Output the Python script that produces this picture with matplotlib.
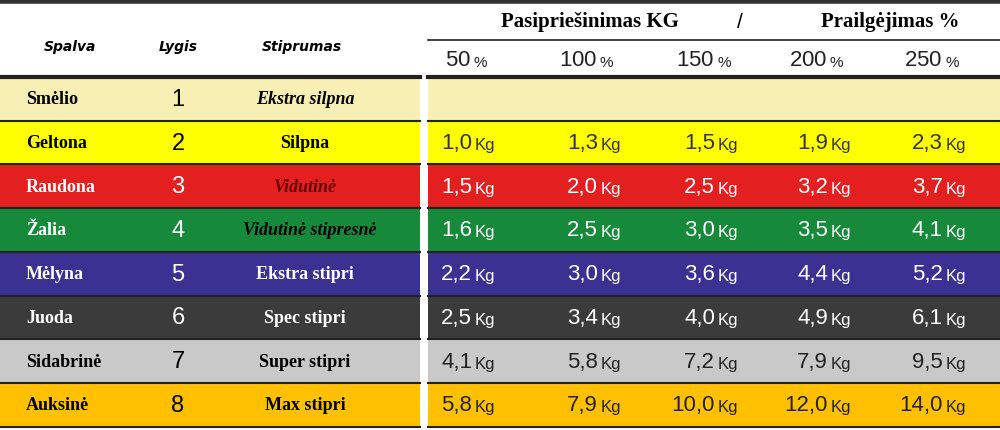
import matplotlib
matplotlib.use("Agg")
import matplotlib.pyplot as plt

# table data
spalva = ["Smėlio", "Geltona", "Raudona", "Žalia", "Mėlyna", "Juoda", "Sidabrinė", "Auksinė"]
lygis = ["1", "2", "3", "4", "5", "6", "7", "8"]
stiprumas = ["Ekstra silpna", "Silpna", "Vidutinė", "Vidutinė stipresnė",
             "Ekstra stipri", "Spec stipri", "Super stipri", "Max stipri"]
italic_str = [True, False, True, True, False, False, False, False]
pct = ["50", "100", "150", "200", "250"]
kg = [
    [],
    ["1,0", "1,3", "1,5", "1,9", "2,3"],
    ["1,5", "2,0", "2,5", "3,2", "3,7"],
    ["1,6", "2,5", "3,0", "3,5", "4,1"],
    ["2,2", "3,0", "3,6", "4,4", "5,2"],
    ["2,5", "3,4", "4,0", "4,9", "6,1"],
    ["4,1", "5,8", "7,2", "7,9", "9,5"],
    ["5,8", "7,9", "10,0", "12,0", "14,0"],
]
row_col = ["#f8efb4", "#ffff00", "#e3201f", "#17893a", "#3a3192", "#3b3b3b", "#c9c9c9", "#ffc000"]
txt_col = ["black", "black", "white", "white", "white", "white", "black", "black"]
str_col = ["black", "black", "#6a0000", "black", "white", "white", "black", "black"]
num_col = ["#222", "#333", "white", "white", "white", "white", "#222", "#222"]

fig = plt.figure(figsize=(10, 4.31), dpi=100)
ax = fig.add_axes([0, 0, 1, 1])
ax.set_xlim(0, 1000)
ax.set_ylim(431, 0)
ax.axis("off")

top, h = 78, 43.7
yc = [top + h * (i + 0.5) for i in range(len(spalva))]
ax.barh(yc, 420, left=0, height=h, color=row_col)
ax.barh(yc, 572, left=428, height=h, color=row_col)
for i in range(len(spalva) + 1):
    ax.plot([0, 420], [top + h * i] * 2, color="#222", lw=1.5 if i else 3)
    ax.plot([428, 1000], [top + h * i] * 2, color="#222", lw=1.5 if i else 3)
ax.plot([0, 1000], [2, 2], color="#333", lw=4)
ax.plot([428, 1000], [41, 41], color="#222", lw=1.2)

hdr = dict(fontsize=10, fontweight="bold", fontstyle="italic", family="DejaVu Sans", va="center")
ax.text(70, 47, "Spalva", ha="center", **hdr)
ax.text(178, 47, "Lygis", ha="center", **hdr)
ax.text(302, 47, "Stiprumas", ha="center", **hdr)
ax.text(590, 22, "Pasipriešinimas KG", ha="center", va="center", fontsize=15,
        fontweight="bold", family="Liberation Serif")
ax.text(740, 22, "/", ha="center", va="center", fontsize=15, family="Liberation Sans")
ax.text(890, 22, "Prailgėjimas %", ha="center", va="center", fontsize=15,
        fontweight="bold", family="Liberation Serif")

xs = [472, 598, 715, 828, 943]
for x, p in zip(xs, pct):
    ax.text(x, 61, f"{p} $\\mathregular{{^{{}}}}$", ha="right", va="center", fontsize=16,
            family="Liberation Sans", color="#222")
    ax.text(x + 2, 63, "%", ha="left", va="center", fontsize=11,
            family="Liberation Sans", color="#222")

for i, y in enumerate(yc):
    ax.text(26, y, spalva[i], ha="left", va="center", fontsize=13, fontweight="bold",
            family="Liberation Serif", color=txt_col[i])
    ax.text(178, y, lygis[i], ha="center", va="center", fontsize=17,
            family="Liberation Sans", color=txt_col[i])
    ax.text(305 if i != 3 else 310, y, stiprumas[i], ha="center", va="center",
            fontsize=13, fontweight="bold", family="Liberation Serif",
            fontstyle="italic" if italic_str[i] else "normal", color=str_col[i])
    for x, v in zip(xs, kg[i]):
        ax.text(x, y, v, ha="right", va="center", fontsize=16,
                family="Liberation Sans", color=num_col[i])
        ax.text(x + 3, y + 2, "Kg", ha="left", va="center", fontsize=12,
                family="Liberation Sans", color=num_col[i])

fig.savefig("out.png", dpi=100)
